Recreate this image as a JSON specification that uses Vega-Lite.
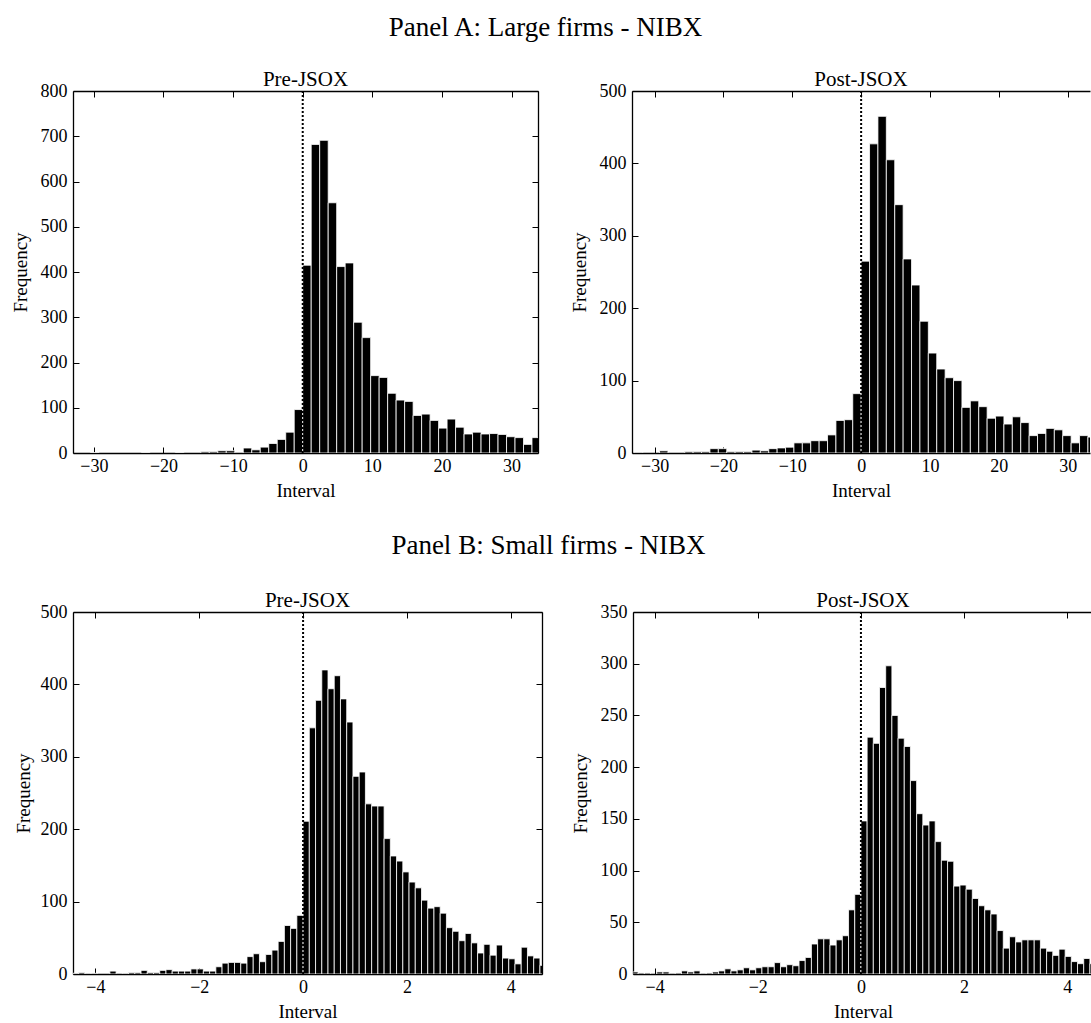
{
  "$schema": "https://vega.github.io/schema/vega-lite/v6.json",
  "padding": {"left": 11, "top": 14, "right": 0, "bottom": 0},
  "config": {
    "view": {"stroke": null},
    "font": "Liberation Serif",
    "axis": {"labelFont": "Liberation Serif", "labelFontSize": 18, "labelColor": "black", "titleFont": "Liberation Serif", "titleFontSize": 19, "titleFontWeight": "normal", "titleColor": "black", "domainColor": "black", "domainWidth": 1.3, "tickColor": "black", "tickWidth": 1, "tickSize": -6, "grid": false, "labelFlush": false, "labelOverlap": false},
    "axisBottom": {"labelPadding": 10, "titlePadding": 6},
    "axisLeft": {"labelPadding": 12, "titlePadding": 10},
    "title": {"font": "Liberation Serif", "fontSize": 21, "fontWeight": "normal", "color": "black", "offset": -8}
  },
  "datasets": {
    "a_pre": [
      {"bin_start": -30.5, "bin_end": -29.28, "count": 1},
      {"bin_start": -23.18, "bin_end": -21.96, "count": 1},
      {"bin_start": -18.3, "bin_end": -17.08, "count": 1},
      {"bin_start": -14.64, "bin_end": -13.42, "count": 3},
      {"bin_start": -13.42, "bin_end": -12.2, "count": 3},
      {"bin_start": -12.2, "bin_end": -10.98, "count": 5},
      {"bin_start": -10.98, "bin_end": -9.76, "count": 5},
      {"bin_start": -8.54, "bin_end": -7.32, "count": 11},
      {"bin_start": -7.32, "bin_end": -6.1, "count": 7},
      {"bin_start": -6.1, "bin_end": -4.88, "count": 13},
      {"bin_start": -4.88, "bin_end": -3.66, "count": 21},
      {"bin_start": -3.66, "bin_end": -2.44, "count": 30},
      {"bin_start": -2.44, "bin_end": -1.22, "count": 46},
      {"bin_start": -1.22, "bin_end": 0, "count": 96},
      {"bin_start": 0, "bin_end": 1.22, "count": 415},
      {"bin_start": 1.22, "bin_end": 2.44, "count": 682},
      {"bin_start": 2.44, "bin_end": 3.66, "count": 691},
      {"bin_start": 3.66, "bin_end": 4.88, "count": 553},
      {"bin_start": 4.88, "bin_end": 6.1, "count": 412},
      {"bin_start": 6.1, "bin_end": 7.32, "count": 420},
      {"bin_start": 7.32, "bin_end": 8.54, "count": 289},
      {"bin_start": 8.54, "bin_end": 9.76, "count": 255},
      {"bin_start": 9.76, "bin_end": 10.98, "count": 171},
      {"bin_start": 10.98, "bin_end": 12.2, "count": 167},
      {"bin_start": 12.2, "bin_end": 13.42, "count": 132},
      {"bin_start": 13.42, "bin_end": 14.64, "count": 117},
      {"bin_start": 14.64, "bin_end": 15.86, "count": 114},
      {"bin_start": 15.86, "bin_end": 17.08, "count": 83},
      {"bin_start": 17.08, "bin_end": 18.3, "count": 86},
      {"bin_start": 18.3, "bin_end": 19.52, "count": 72},
      {"bin_start": 19.52, "bin_end": 20.74, "count": 55},
      {"bin_start": 20.74, "bin_end": 21.96, "count": 75},
      {"bin_start": 21.96, "bin_end": 23.18, "count": 57},
      {"bin_start": 23.18, "bin_end": 24.4, "count": 42},
      {"bin_start": 24.4, "bin_end": 25.62, "count": 46},
      {"bin_start": 25.62, "bin_end": 26.84, "count": 42},
      {"bin_start": 26.84, "bin_end": 28.06, "count": 43},
      {"bin_start": 28.06, "bin_end": 29.28, "count": 41},
      {"bin_start": 29.28, "bin_end": 30.5, "count": 36},
      {"bin_start": 30.5, "bin_end": 31.72, "count": 34},
      {"bin_start": 31.72, "bin_end": 32.94, "count": 19},
      {"bin_start": 32.94, "bin_end": 34.16, "count": 34}
    ],
    "a_post": [
      {"bin_start": -32.94, "bin_end": -31.72, "count": 1},
      {"bin_start": -29.28, "bin_end": -28.06, "count": 3},
      {"bin_start": -25.62, "bin_end": -24.4, "count": 2},
      {"bin_start": -24.4, "bin_end": -23.18, "count": 2},
      {"bin_start": -23.18, "bin_end": -21.96, "count": 2},
      {"bin_start": -21.96, "bin_end": -20.74, "count": 6},
      {"bin_start": -20.74, "bin_end": -19.52, "count": 6},
      {"bin_start": -19.52, "bin_end": -18.3, "count": 2},
      {"bin_start": -18.3, "bin_end": -17.08, "count": 2},
      {"bin_start": -17.08, "bin_end": -15.86, "count": 2},
      {"bin_start": -15.86, "bin_end": -14.64, "count": 4},
      {"bin_start": -14.64, "bin_end": -13.42, "count": 3},
      {"bin_start": -13.42, "bin_end": -12.2, "count": 6},
      {"bin_start": -12.2, "bin_end": -10.98, "count": 7},
      {"bin_start": -10.98, "bin_end": -9.76, "count": 8},
      {"bin_start": -9.76, "bin_end": -8.54, "count": 14},
      {"bin_start": -8.54, "bin_end": -7.32, "count": 14},
      {"bin_start": -7.32, "bin_end": -6.1, "count": 17},
      {"bin_start": -6.1, "bin_end": -4.88, "count": 17},
      {"bin_start": -4.88, "bin_end": -3.66, "count": 25},
      {"bin_start": -3.66, "bin_end": -2.44, "count": 45},
      {"bin_start": -2.44, "bin_end": -1.22, "count": 46},
      {"bin_start": -1.22, "bin_end": 0, "count": 82},
      {"bin_start": 0, "bin_end": 1.22, "count": 265},
      {"bin_start": 1.22, "bin_end": 2.44, "count": 427},
      {"bin_start": 2.44, "bin_end": 3.66, "count": 465},
      {"bin_start": 3.66, "bin_end": 4.88, "count": 405},
      {"bin_start": 4.88, "bin_end": 6.1, "count": 343},
      {"bin_start": 6.1, "bin_end": 7.32, "count": 268},
      {"bin_start": 7.32, "bin_end": 8.54, "count": 232},
      {"bin_start": 8.54, "bin_end": 9.76, "count": 182},
      {"bin_start": 9.76, "bin_end": 10.98, "count": 138},
      {"bin_start": 10.98, "bin_end": 12.2, "count": 116},
      {"bin_start": 12.2, "bin_end": 13.42, "count": 104},
      {"bin_start": 13.42, "bin_end": 14.64, "count": 100},
      {"bin_start": 14.64, "bin_end": 15.86, "count": 63},
      {"bin_start": 15.86, "bin_end": 17.08, "count": 72},
      {"bin_start": 17.08, "bin_end": 18.3, "count": 64},
      {"bin_start": 18.3, "bin_end": 19.52, "count": 48},
      {"bin_start": 19.52, "bin_end": 20.74, "count": 51},
      {"bin_start": 20.74, "bin_end": 21.96, "count": 40},
      {"bin_start": 21.96, "bin_end": 23.18, "count": 50},
      {"bin_start": 23.18, "bin_end": 24.4, "count": 42},
      {"bin_start": 24.4, "bin_end": 25.62, "count": 24},
      {"bin_start": 25.62, "bin_end": 26.84, "count": 27},
      {"bin_start": 26.84, "bin_end": 28.06, "count": 34},
      {"bin_start": 28.06, "bin_end": 29.28, "count": 32},
      {"bin_start": 29.28, "bin_end": 30.5, "count": 24},
      {"bin_start": 30.5, "bin_end": 31.72, "count": 14},
      {"bin_start": 31.72, "bin_end": 32.94, "count": 24},
      {"bin_start": 32.94, "bin_end": 34.16, "count": 22}
    ],
    "b_pre": [
      {"bin_start": -4.44, "bin_end": -4.32, "count": 1},
      {"bin_start": -4.32, "bin_end": -4.2, "count": 2},
      {"bin_start": -4.2, "bin_end": -4.08, "count": 1},
      {"bin_start": -4.08, "bin_end": -3.96, "count": 1},
      {"bin_start": -3.72, "bin_end": -3.6, "count": 4},
      {"bin_start": -3.48, "bin_end": -3.36, "count": 1},
      {"bin_start": -3.36, "bin_end": -3.24, "count": 2},
      {"bin_start": -3.24, "bin_end": -3.12, "count": 2},
      {"bin_start": -3.12, "bin_end": -3.0, "count": 5},
      {"bin_start": -3.0, "bin_end": -2.88, "count": 2},
      {"bin_start": -2.88, "bin_end": -2.76, "count": 2},
      {"bin_start": -2.76, "bin_end": -2.64, "count": 5},
      {"bin_start": -2.64, "bin_end": -2.52, "count": 6},
      {"bin_start": -2.52, "bin_end": -2.4, "count": 4},
      {"bin_start": -2.4, "bin_end": -2.28, "count": 4},
      {"bin_start": -2.28, "bin_end": -2.16, "count": 4},
      {"bin_start": -2.16, "bin_end": -2.04, "count": 7},
      {"bin_start": -2.04, "bin_end": -1.92, "count": 7},
      {"bin_start": -1.92, "bin_end": -1.8, "count": 4},
      {"bin_start": -1.8, "bin_end": -1.68, "count": 4},
      {"bin_start": -1.68, "bin_end": -1.56, "count": 10},
      {"bin_start": -1.56, "bin_end": -1.44, "count": 15},
      {"bin_start": -1.44, "bin_end": -1.32, "count": 16},
      {"bin_start": -1.32, "bin_end": -1.2, "count": 16},
      {"bin_start": -1.2, "bin_end": -1.08, "count": 15},
      {"bin_start": -1.08, "bin_end": -0.96, "count": 24},
      {"bin_start": -0.96, "bin_end": -0.84, "count": 28},
      {"bin_start": -0.84, "bin_end": -0.72, "count": 17},
      {"bin_start": -0.72, "bin_end": -0.6, "count": 27},
      {"bin_start": -0.6, "bin_end": -0.48, "count": 33},
      {"bin_start": -0.48, "bin_end": -0.36, "count": 45},
      {"bin_start": -0.36, "bin_end": -0.24, "count": 67},
      {"bin_start": -0.24, "bin_end": -0.12, "count": 63},
      {"bin_start": -0.12, "bin_end": 0, "count": 81},
      {"bin_start": 0, "bin_end": 0.12, "count": 211},
      {"bin_start": 0.12, "bin_end": 0.24, "count": 340},
      {"bin_start": 0.24, "bin_end": 0.36, "count": 378},
      {"bin_start": 0.36, "bin_end": 0.48, "count": 420},
      {"bin_start": 0.48, "bin_end": 0.6, "count": 394},
      {"bin_start": 0.6, "bin_end": 0.72, "count": 412},
      {"bin_start": 0.72, "bin_end": 0.84, "count": 380},
      {"bin_start": 0.84, "bin_end": 0.96, "count": 348},
      {"bin_start": 0.96, "bin_end": 1.08, "count": 273},
      {"bin_start": 1.08, "bin_end": 1.2, "count": 279},
      {"bin_start": 1.2, "bin_end": 1.32, "count": 235},
      {"bin_start": 1.32, "bin_end": 1.44, "count": 232},
      {"bin_start": 1.44, "bin_end": 1.56, "count": 232},
      {"bin_start": 1.56, "bin_end": 1.68, "count": 187},
      {"bin_start": 1.68, "bin_end": 1.8, "count": 163},
      {"bin_start": 1.8, "bin_end": 1.92, "count": 156},
      {"bin_start": 1.92, "bin_end": 2.04, "count": 141},
      {"bin_start": 2.04, "bin_end": 2.16, "count": 127},
      {"bin_start": 2.16, "bin_end": 2.28, "count": 119},
      {"bin_start": 2.28, "bin_end": 2.4, "count": 102},
      {"bin_start": 2.4, "bin_end": 2.52, "count": 91},
      {"bin_start": 2.52, "bin_end": 2.64, "count": 93},
      {"bin_start": 2.64, "bin_end": 2.76, "count": 84},
      {"bin_start": 2.76, "bin_end": 2.88, "count": 64},
      {"bin_start": 2.88, "bin_end": 3.0, "count": 59},
      {"bin_start": 3.0, "bin_end": 3.12, "count": 46},
      {"bin_start": 3.12, "bin_end": 3.24, "count": 56},
      {"bin_start": 3.24, "bin_end": 3.36, "count": 43},
      {"bin_start": 3.36, "bin_end": 3.48, "count": 29},
      {"bin_start": 3.48, "bin_end": 3.6, "count": 41},
      {"bin_start": 3.6, "bin_end": 3.72, "count": 26},
      {"bin_start": 3.72, "bin_end": 3.84, "count": 40},
      {"bin_start": 3.84, "bin_end": 3.96, "count": 22},
      {"bin_start": 3.96, "bin_end": 4.08, "count": 21},
      {"bin_start": 4.08, "bin_end": 4.2, "count": 14},
      {"bin_start": 4.2, "bin_end": 4.32, "count": 37},
      {"bin_start": 4.32, "bin_end": 4.44, "count": 25},
      {"bin_start": 4.44, "bin_end": 4.56, "count": 22},
      {"bin_start": 4.56, "bin_end": 4.68, "count": 12}
    ],
    "b_post": [
      {"bin_start": -4.44, "bin_end": -4.32, "count": 2},
      {"bin_start": -4.32, "bin_end": -4.2, "count": 1},
      {"bin_start": -4.2, "bin_end": -4.08, "count": 1},
      {"bin_start": -3.96, "bin_end": -3.84, "count": 2},
      {"bin_start": -3.84, "bin_end": -3.72, "count": 2},
      {"bin_start": -3.6, "bin_end": -3.48, "count": 1},
      {"bin_start": -3.48, "bin_end": -3.36, "count": 3},
      {"bin_start": -3.36, "bin_end": -3.24, "count": 2},
      {"bin_start": -3.24, "bin_end": -3.12, "count": 3},
      {"bin_start": -3.0, "bin_end": -2.88, "count": 1},
      {"bin_start": -2.88, "bin_end": -2.76, "count": 2},
      {"bin_start": -2.76, "bin_end": -2.64, "count": 3},
      {"bin_start": -2.64, "bin_end": -2.52, "count": 5},
      {"bin_start": -2.52, "bin_end": -2.4, "count": 3},
      {"bin_start": -2.4, "bin_end": -2.28, "count": 4},
      {"bin_start": -2.28, "bin_end": -2.16, "count": 6},
      {"bin_start": -2.16, "bin_end": -2.04, "count": 4},
      {"bin_start": -2.04, "bin_end": -1.92, "count": 6},
      {"bin_start": -1.92, "bin_end": -1.8, "count": 7},
      {"bin_start": -1.8, "bin_end": -1.68, "count": 7},
      {"bin_start": -1.68, "bin_end": -1.56, "count": 11},
      {"bin_start": -1.56, "bin_end": -1.44, "count": 7},
      {"bin_start": -1.44, "bin_end": -1.32, "count": 9},
      {"bin_start": -1.32, "bin_end": -1.2, "count": 8},
      {"bin_start": -1.2, "bin_end": -1.08, "count": 13},
      {"bin_start": -1.08, "bin_end": -0.96, "count": 16},
      {"bin_start": -0.96, "bin_end": -0.84, "count": 29},
      {"bin_start": -0.84, "bin_end": -0.72, "count": 34},
      {"bin_start": -0.72, "bin_end": -0.6, "count": 34},
      {"bin_start": -0.6, "bin_end": -0.48, "count": 28},
      {"bin_start": -0.48, "bin_end": -0.36, "count": 33},
      {"bin_start": -0.36, "bin_end": -0.24, "count": 37},
      {"bin_start": -0.24, "bin_end": -0.12, "count": 62},
      {"bin_start": -0.12, "bin_end": 0, "count": 77},
      {"bin_start": 0, "bin_end": 0.12, "count": 148},
      {"bin_start": 0.12, "bin_end": 0.24, "count": 229},
      {"bin_start": 0.24, "bin_end": 0.36, "count": 223},
      {"bin_start": 0.36, "bin_end": 0.48, "count": 277},
      {"bin_start": 0.48, "bin_end": 0.6, "count": 298},
      {"bin_start": 0.6, "bin_end": 0.72, "count": 250},
      {"bin_start": 0.72, "bin_end": 0.84, "count": 228},
      {"bin_start": 0.84, "bin_end": 0.96, "count": 220},
      {"bin_start": 0.96, "bin_end": 1.08, "count": 187},
      {"bin_start": 1.08, "bin_end": 1.2, "count": 155},
      {"bin_start": 1.2, "bin_end": 1.32, "count": 144},
      {"bin_start": 1.32, "bin_end": 1.44, "count": 148},
      {"bin_start": 1.44, "bin_end": 1.56, "count": 128},
      {"bin_start": 1.56, "bin_end": 1.68, "count": 110},
      {"bin_start": 1.68, "bin_end": 1.8, "count": 109},
      {"bin_start": 1.8, "bin_end": 1.92, "count": 85},
      {"bin_start": 1.92, "bin_end": 2.04, "count": 86},
      {"bin_start": 2.04, "bin_end": 2.16, "count": 82},
      {"bin_start": 2.16, "bin_end": 2.28, "count": 73},
      {"bin_start": 2.28, "bin_end": 2.4, "count": 66},
      {"bin_start": 2.4, "bin_end": 2.52, "count": 62},
      {"bin_start": 2.52, "bin_end": 2.64, "count": 58},
      {"bin_start": 2.64, "bin_end": 2.76, "count": 42},
      {"bin_start": 2.76, "bin_end": 2.88, "count": 25},
      {"bin_start": 2.88, "bin_end": 3.0, "count": 36},
      {"bin_start": 3.0, "bin_end": 3.12, "count": 31},
      {"bin_start": 3.12, "bin_end": 3.24, "count": 33},
      {"bin_start": 3.24, "bin_end": 3.36, "count": 33},
      {"bin_start": 3.36, "bin_end": 3.48, "count": 33},
      {"bin_start": 3.48, "bin_end": 3.6, "count": 25},
      {"bin_start": 3.6, "bin_end": 3.72, "count": 22},
      {"bin_start": 3.72, "bin_end": 3.84, "count": 18},
      {"bin_start": 3.84, "bin_end": 3.96, "count": 24},
      {"bin_start": 3.96, "bin_end": 4.08, "count": 17},
      {"bin_start": 4.08, "bin_end": 4.2, "count": 12},
      {"bin_start": 4.2, "bin_end": 4.32, "count": 10},
      {"bin_start": 4.32, "bin_end": 4.44, "count": 15},
      {"bin_start": 4.44, "bin_end": 4.56, "count": 10}
    ]
  },
  "vconcat": [
    {
      "title": {"text": "Panel A: Large firms - NIBX", "fontSize": 27, "anchor": "middle", "offset": 27, "dx": -5},
      "bounds": "flush",
      "spacing": 94,
      "hconcat": [
        {
          "width": 465, "height": 362,
          "title": "Pre-JSOX",
          "layer": [
            {
              "data": {"name": "a_pre"},
              "mark": {"type": "bar", "fill": "black", "stroke": "white", "strokeWidth": 0.8, "clip": true},
              "encoding": {
                "x": {"field": "bin_start", "type": "quantitative", "scale": {"domain": [-33, 33.8], "nice": false, "zero": false}, "axis": {"orient": "bottom", "values": [-30, -20, -10, 0, 10, 20, 30], "title": "Interval"}},
                "x2": {"field": "bin_end"},
                "y": {"field": "count", "type": "quantitative", "scale": {"domain": [0, 800], "nice": false}, "axis": {"orient": "left", "values": [0, 100, 200, 300, 400, 500, 600, 700, 800], "title": "Frequency"}},
                "y2": {"datum": 0}
              }
            },
            {
              "data": {"values": [{"at": 0}]},
              "mark": {"type": "rule", "color": "black", "strokeWidth": 2, "strokeDash": [2, 2]},
              "encoding": {
                "x": {"field": "at", "type": "quantitative", "axis": {"orient": "top", "values": [-30, -20, -10, 0, 10, 20, 30], "labels": false, "title": null}},
                "y": {"datum": 0, "type": "quantitative", "axis": {"orient": "right", "values": [0, 100, 200, 300, 400, 500, 600, 700, 800], "labels": false, "title": null}},
                "y2": {"datum": 800}
              }
            }
          ],
          "resolve": {"axis": {"x": "independent", "y": "independent"}}
        },
        {
          "width": 458, "height": 362,
          "title": "Post-JSOX",
          "layer": [
            {
              "data": {"name": "a_post"},
              "mark": {"type": "bar", "fill": "black", "stroke": "white", "strokeWidth": 0.8, "clip": true},
              "encoding": {
                "x": {"field": "bin_start", "type": "quantitative", "scale": {"domain": [-33.28, 33.24], "nice": false, "zero": false}, "axis": {"orient": "bottom", "values": [-30, -20, -10, 0, 10, 20, 30], "title": "Interval"}},
                "x2": {"field": "bin_end"},
                "y": {"field": "count", "type": "quantitative", "scale": {"domain": [0, 500], "nice": false}, "axis": {"orient": "left", "values": [0, 100, 200, 300, 400, 500], "title": "Frequency"}},
                "y2": {"datum": 0}
              }
            },
            {
              "data": {"values": [{"at": 0}]},
              "mark": {"type": "rule", "color": "black", "strokeWidth": 2, "strokeDash": [2, 2]},
              "encoding": {
                "x": {"field": "at", "type": "quantitative", "axis": {"orient": "top", "values": [-30, -20, -10, 0, 10, 20, 30], "labels": false, "title": null}}
              }
            }
          ],
          "resolve": {"axis": {"x": "independent"}}
        }
      ]
    },
    {
      "title": {"text": "Panel B: Small firms - NIBX", "fontSize": 27, "anchor": "middle", "offset": 30, "dx": -5},
      "bounds": "flush",
      "spacing": 91,
      "hconcat": [
        {
          "width": 469, "height": 362,
          "title": "Pre-JSOX",
          "layer": [
            {
              "data": {"name": "b_pre"},
              "mark": {"type": "bar", "fill": "black", "stroke": "white", "strokeWidth": 0.8, "clip": true},
              "encoding": {
                "x": {"field": "bin_start", "type": "quantitative", "scale": {"domain": [-4.43, 4.6], "nice": false, "zero": false}, "axis": {"orient": "bottom", "values": [-4, -2, 0, 2, 4], "title": "Interval"}},
                "x2": {"field": "bin_end"},
                "y": {"field": "count", "type": "quantitative", "scale": {"domain": [0, 500], "nice": false}, "axis": {"orient": "left", "values": [0, 100, 200, 300, 400, 500], "title": "Frequency", "titlePadding": 7}},
                "y2": {"datum": 0}
              }
            },
            {
              "data": {"values": [{"at": 0}]},
              "mark": {"type": "rule", "color": "black", "strokeWidth": 2, "strokeDash": [2, 2]},
              "encoding": {
                "x": {"field": "at", "type": "quantitative", "axis": {"orient": "top", "values": [-4, -2, 0, 2, 4], "labels": false, "title": null}},
                "y": {"datum": 0, "type": "quantitative", "axis": {"orient": "right", "values": [0, 100, 200, 300, 400, 500], "labels": false, "title": null}},
                "y2": {"datum": 500}
              }
            }
          ],
          "resolve": {"axis": {"x": "independent", "y": "independent"}}
        },
        {
          "width": 460, "height": 362,
          "title": "Post-JSOX",
          "layer": [
            {
              "data": {"name": "b_post"},
              "mark": {"type": "bar", "fill": "black", "stroke": "white", "strokeWidth": 0.8, "clip": true},
              "encoding": {
                "x": {"field": "bin_start", "type": "quantitative", "scale": {"domain": [-4.42, 4.5], "nice": false, "zero": false}, "axis": {"orient": "bottom", "values": [-4, -2, 0, 2, 4], "title": "Interval"}},
                "x2": {"field": "bin_end"},
                "y": {"field": "count", "type": "quantitative", "scale": {"domain": [0, 350], "nice": false}, "axis": {"orient": "left", "values": [0, 50, 100, 150, 200, 250, 300, 350], "title": "Frequency"}},
                "y2": {"datum": 0}
              }
            },
            {
              "data": {"values": [{"at": 0}]},
              "mark": {"type": "rule", "color": "black", "strokeWidth": 2, "strokeDash": [2, 2]},
              "encoding": {
                "x": {"field": "at", "type": "quantitative", "axis": {"orient": "top", "values": [-4, -2, 0, 2, 4], "labels": false, "title": null}}
              }
            }
          ],
          "resolve": {"axis": {"x": "independent"}}
        }
      ]
    }
  ],
  "spacing": 32
}
